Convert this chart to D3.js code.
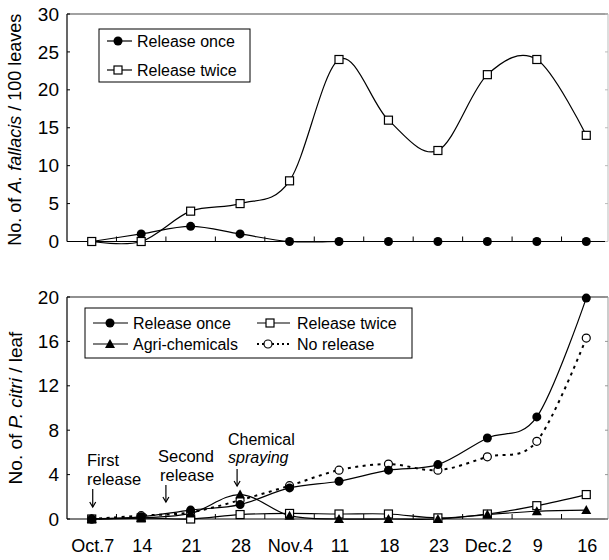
<!DOCTYPE html>
<html>
<head>
<meta charset="utf-8">
<script src="https://cdn.jsdelivr.net/npm/d3@7"></script>
<style>
  html, body { margin: 0; padding: 0; background: #fff; }
  svg { display: block; font-family: "Liberation Sans", Arial, Helvetica, sans-serif; }
</style>
</head>
<body>
<svg id="chart" width="609" height="560"></svg>
<script>
// Sampling dates (weekly surveys)
const dates = ["Oct.7", "14", "21", "28", "Nov.4", "11", "18", "23", "Dec.2", "9", "16"];

// Upper panel: predatory mite A. fallacis per 100 leaves
const fallacisOnce  = [0, 1, 2, 1, 0, 0, 0, 0, 0, 0, 0];
const fallacisTwice = [0, 0, 4, 5, 8, 24, 16, 12, 22, 24, 14];
const fallacisTicks = [0, 5, 10, 15, 20, 25, 30];

// Lower panel: citrus red mite P. citri per leaf
const citriOnce  = [0, 0.2, 0.8, 1.3, 2.8, 3.4, 4.4, 4.9, 7.3, 9.2, 19.9];
const citriTwice = [0, 0.1, 0, 0.4, 0.5, 0.45, 0.45, 0.1, 0.45, 1.2, 2.2];
const citriChem  = [0, 0.1, 0.5, 2.2, 0.3, 0, 0, 0, 0.4, 0.7, 0.8];
const citriNone  = [0, 0.3, 0.6, 1.7, 3.0, 4.4, 4.95, 4.4, 5.6, 7.0, 16.3];
const citriTicks = [0, 4, 8, 12, 16, 20];

const svg = d3.select("#chart");
const left = 67, right = 608;

const x = d3.scalePoint().domain(d3.range(dates.length)).range([left, 611]).padding(0.5);
const step = x.step();

const yTop = d3.scaleLinear().domain([0, 30]).range([241.5, 14]);
const yBot = d3.scaleLinear().domain([0, 20]).range([519, 297]);

const curve = d3.curveCatmullRom.alpha(0);

function marker(g, type, cx, cy) {
  const s = 4.5;
  if (type === "dot") {
    g.append("circle").attr("cx", cx).attr("cy", cy).attr("r", s).attr("fill", "#000");
  } else if (type === "ring") {
    g.append("circle").attr("cx", cx).attr("cy", cy).attr("r", 4).attr("fill", "#fff")
      .attr("stroke", "#000").attr("stroke-width", 1.2);
  } else if (type === "square") {
    g.append("rect").attr("x", cx - 4).attr("y", cy - 4).attr("width", 8).attr("height", 8)
      .attr("fill", "#fff").attr("stroke", "#000").attr("stroke-width", 1.2);
  } else if (type === "tri") {
    g.append("path").attr("d", `M${cx},${cy - 5}L${cx + 5},${cy + 4}L${cx - 5},${cy + 4}Z`).attr("fill", "#000");
  }
}

function series(g, y, values, dash) {
  const line = d3.line().x((d, i) => x(i)).y(d => y(d)).curve(curve);
  g.append("path").datum(values).attr("d", line).attr("fill", "none")
    .attr("stroke", "#000")
    .attr("stroke-width", dash ? 2 : 1.2)
    .attr("stroke-dasharray", dash ? "3,4.5" : null);
}

function markers(g, y, values, type) {
  values.forEach((v, i) => marker(g, type, x(i), y(v)));
}

function frame(g, y, ticks, topColor, rightColor) {
  const y0 = y.range()[0], y1 = y.range()[1];
  g.append("line").attr("x1", left).attr("x2", left).attr("y1", y0).attr("y2", y1)
    .attr("stroke", "#000").attr("stroke-width", 1.2);
  g.append("line").attr("x1", left).attr("x2", right).attr("y1", y1).attr("y2", y1)
    .attr("stroke", topColor).attr("stroke-width", 1.2);
  g.append("line").attr("x1", right).attr("x2", right).attr("y1", y1).attr("y2", y0)
    .attr("stroke", rightColor).attr("stroke-width", 1);
  g.append("line").attr("x1", left).attr("x2", right).attr("y1", y0).attr("y2", y0)
    .attr("stroke", "#000").attr("stroke-width", 1.2);
  // boundary ticks between sampling dates
  d3.range(1, dates.length).forEach(i => {
    const xx = x(i) - step / 2;
    g.append("line").attr("x1", xx).attr("x2", xx).attr("y1", y0).attr("y2", y0 - 5)
      .attr("stroke", "#000").attr("stroke-width", 1);
  });
  ticks.forEach(t => {
    g.append("line").attr("x1", left).attr("x2", left + 3).attr("y1", y(t)).attr("y2", y(t))
      .attr("stroke", "#000");
    g.append("line").attr("x1", right).attr("x2", right - 3).attr("y1", y(t)).attr("y2", y(t))
      .attr("stroke", rightColor);
    g.append("text").attr("x", left - 8).attr("y", y(t)).attr("dy", "0.35em")
      .attr("text-anchor", "end").attr("font-size", 19).text(t);
  });
}

// ---------- Upper panel ----------
const upper = svg.append("g");
frame(upper, yTop, fallacisTicks, "#444", "#bbb");
series(upper, yTop, fallacisOnce);
series(upper, yTop, fallacisTwice);
markers(upper, yTop, fallacisOnce, "dot");
markers(upper, yTop, fallacisTwice, "square");

upper.append("text")
  .attr("transform", `translate(15,${(yTop(0) + yTop(30)) / 2 + 2}) rotate(-90)`)
  .attr("text-anchor", "middle").attr("dy", "0.35em").attr("font-size", 18)
  .call(t => {
    t.append("tspan").text("No. of ");
    t.append("tspan").attr("font-style", "italic").text("A. fallacis");
    t.append("tspan").text(" / 100 leaves");
  });

const lt = upper.append("g");
lt.append("rect").attr("x", 99).attr("y", 29).attr("width", 151).attr("height", 53)
  .attr("fill", "#fff").attr("stroke", "#000").attr("stroke-width", 1);
[["Release once", "dot", 41], ["Release twice", "square", 70]].forEach(([label, type, yy]) => {
  lt.append("line").attr("x1", 107).attr("x2", 132).attr("y1", yy).attr("y2", yy)
    .attr("stroke", "#000").attr("stroke-width", 1.2);
  marker(lt, type, 118, yy);
  lt.append("text").attr("x", 137).attr("y", yy).attr("dy", "0.35em").attr("font-size", 16).text(label);
});

// ---------- Lower panel ----------
const lower = svg.append("g");
frame(lower, yBot, citriTicks, "#222", "#999");
series(lower, yBot, citriNone, true);
series(lower, yBot, citriTwice);
series(lower, yBot, citriChem);
series(lower, yBot, citriOnce);
markers(lower, yBot, citriNone, "ring");
markers(lower, yBot, citriTwice, "square");
markers(lower, yBot, citriChem, "tri");
markers(lower, yBot, citriOnce, "dot");

lower.append("text")
  .attr("transform", `translate(15,${(yBot(0) + yBot(20)) / 2}) rotate(-90)`)
  .attr("text-anchor", "middle").attr("dy", "0.35em").attr("font-size", 19)
  .call(t => {
    t.append("tspan").text("No. of ");
    t.append("tspan").attr("font-style", "italic").text("P. citri");
    t.append("tspan").text(" / leaf");
  });

dates.forEach((d, i) => {
  lower.append("text").attr("x", x(i) + 1).attr("y", 546).attr("dy", "0.35em")
    .attr("text-anchor", "middle").attr("font-size", 18).text(d);
});

const lb = lower.append("g");
lb.append("rect").attr("x", 85).attr("y", 308).attr("width", 327).attr("height", 50)
  .attr("fill", "#fff").attr("stroke", "#000").attr("stroke-width", 1);
const legendItems = [
  ["Release once", "dot", 93, 128, 110, 133, 323, false],
  ["Agri-chemicals", "tri", 93, 128, 110, 133, 344, false],
  ["Release twice", "square", 257, 290, 270, 297, 323, false],
  ["No release", "ring", 257, 290, 268, 297, 344, true]
];
legendItems.forEach(([label, type, x1, x2, mx, tx, yy, dash]) => {
  lb.append("line").attr("x1", x1).attr("x2", x2).attr("y1", yy).attr("y2", yy)
    .attr("stroke", "#000").attr("stroke-width", dash ? 2 : 1.2)
    .attr("stroke-dasharray", dash ? "2,3" : null);
  marker(lb, type, mx, yy);
  lb.append("text").attr("x", tx).attr("y", yy).attr("dy", "0.35em").attr("font-size", 16).text(label);
});

// event annotations with arrows
function arrow(g, xx, y1, y2) {
  g.append("line").attr("x1", xx).attr("x2", xx).attr("y1", y1).attr("y2", y2)
    .attr("stroke", "#000").attr("stroke-width", 1.2);
  g.append("path").attr("d", `M${xx - 3},${y2 - 5}L${xx},${y2}L${xx + 3},${y2 - 5}`)
    .attr("fill", "none").attr("stroke", "#000").attr("stroke-width", 1.2);
}
const ann = lower.append("g").attr("font-size", 16.5);
ann.append("text").attr("x", 87).attr("y", 466).text("First");
ann.append("text").attr("x", 87).attr("y", 485).text("release");
arrow(ann, x(0) + 1, 489, 507);

ann.append("text").attr("x", 158).attr("y", 462).text("Second");
ann.append("text").attr("x", 160).attr("y", 481).text("release");
arrow(ann, x(1) + step / 2, 485, 502);

ann.append("text").attr("x", 228).attr("y", 445).attr("font-size", 16).text("Chemical");
ann.append("text").attr("x", 228).attr("y", 463).attr("font-size", 16).attr("font-style", "italic").text("spraying");
arrow(ann, x(3) - 3, 469, 486);
</script>
</body>
</html>
